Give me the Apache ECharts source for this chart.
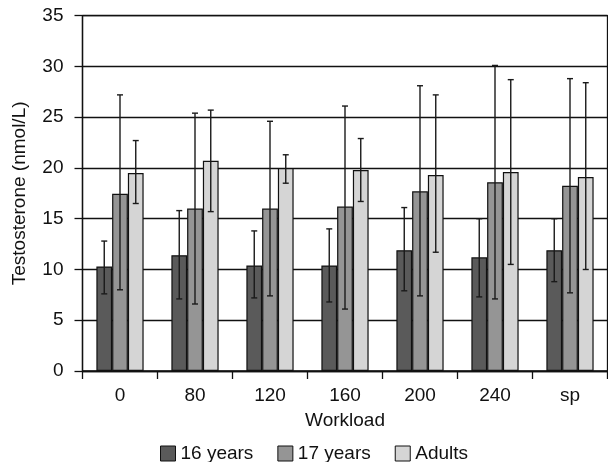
<!DOCTYPE html>
<html>
<head>
<meta charset="utf-8">
<script src="https://cdn.jsdelivr.net/npm/echarts@6/dist/echarts.min.js"></script>
<style>html,body{margin:0;padding:0;background:#fff}#c{width:608px;height:462px}</style>
</head>
<body>
<div id="c"></div>
<script>
var categories = ['0', '80', '120', '160', '200', '240', 'sp'];
var seriesNames = ['16 years', '17 years', 'Adults'];
var mean16 = [10.3, 11.4, 10.4, 10.4, 11.9, 11.2, 11.9];
var low16  = [7.6, 7.1, 7.2, 6.8, 7.9, 7.3, 8.8];
var high16 = [12.8, 15.8, 13.8, 14.0, 16.1, 15.0, 15.0];
var mean17 = [17.45, 16.0, 16.0, 16.2, 17.7, 18.6, 18.25];
var low17  = [8.0, 6.6, 7.4, 6.1, 7.4, 7.1, 7.7];
var high17 = [27.2, 25.4, 24.6, 26.1, 28.1, 30.1, 28.8];
var meanAd = [19.5, 20.7, 20.0, 19.8, 19.3, 19.6, 19.1];
var lowAd  = [16.5, 15.7, 18.5, 16.7, 11.7, 10.5, 10.0];
var highAd = [22.7, 25.7, 21.3, 22.9, 27.2, 28.7, 28.4];
var yTicks = [0, 5, 10, 15, 20, 25, 30, 35];

var colors = ['#5a5a5a', '#959595', '#d5d5d5'];
var font = '"Liberation Sans", Arial, sans-serif';
var FS = 19;
var BAR_RATIO = 0.21;

function errSeries(idx, lows, highs) {
  var data = categories.map(function (c, i) { return [i, lows[i], highs[i]]; });
  return {
    type: 'custom',
    name: seriesNames[idx] + ' err',
    z: 10,
    silent: true,
    data: data,
    renderItem: function (params, api) {
      var i = api.value(0);
      var band = api.size([1, 0])[0];
      var off = (idx - 1) * band * BAR_RATIO;
      var lo = api.coord([i, api.value(1)]);
      var hi = api.coord([i, api.value(2)]);
      var x = lo[0] + off;
      var cap = 3;
      var st = { stroke: '#1a1a1a', lineWidth: 1.4 };
      return {
        type: 'group',
        children: [
          { type: 'line', shape: { x1: x, y1: lo[1], x2: x, y2: hi[1] }, style: st },
          { type: 'line', shape: { x1: x - cap, y1: lo[1], x2: x + cap, y2: lo[1] }, style: st },
          { type: 'line', shape: { x1: x - cap, y1: hi[1], x2: x + cap, y2: hi[1] }, style: st }
        ]
      };
    }
  };
}

function barSeries(idx, vals) {
  return {
    type: 'bar',
    name: seriesNames[idx],
    data: vals,
    barWidth: (BAR_RATIO * 100) + '%',
    barGap: '0%',
    itemStyle: { color: colors[idx], borderColor: '#111', borderWidth: 1.2 }
  };
}

var chart = echarts.init(document.getElementById('c'), null, { renderer: 'canvas' });
chart.setOption({
  animation: false,
  backgroundColor: '#fff',
  textStyle: { fontFamily: font },
  grid: { left: 82.5, right: 0.5, top: 15.7, bottom: 91, show: true, borderColor: '#111', borderWidth: 1.3, containLabel: false },
  legend: {
    top: 439,
    left: 155,
    icon: 'rect',
    itemWidth: 15,
    itemHeight: 15,
    itemGap: 24,
    data: seriesNames.map(function (n) { return { name: n, itemStyle: { borderColor: '#111', borderWidth: 1 } }; }),
    textStyle: { fontFamily: font, fontSize: FS, color: '#111' }
  },
  xAxis: {
    type: 'category',
    data: categories,
    name: 'Workload',
    nameLocation: 'middle',
    nameGap: 40,
    nameTextStyle: { fontFamily: font, fontSize: FS, color: '#111' },
    axisLine: { lineStyle: { color: '#111', width: 1.3 } },
    axisTick: { show: true, length: 8, lineStyle: { color: '#111', width: 1.3 } },
    axisLabel: { fontFamily: font, fontSize: FS, color: '#111', margin: 15 }
  },
  yAxis: {
    type: 'value',
    min: 0,
    max: 35,
    interval: 5,
    name: 'Testosterone (nmol/L)',
    nameLocation: 'middle',
    nameGap: 53,
    nameTextStyle: { fontFamily: font, fontSize: FS, color: '#111' },
    axisLine: { show: true, lineStyle: { color: '#111', width: 1.3 } },
    axisTick: { show: true, length: 8, lineStyle: { color: '#111', width: 1.3 } },
    axisLabel: { fontFamily: font, fontSize: FS, color: '#111', margin: 19, padding: [4, 0, 0, 0],
      formatter: function (v) { return yTicks.indexOf(v) >= 0 ? String(v) : ''; } },
    splitLine: { show: true, lineStyle: { color: '#111', width: 1.3 } }
  },
  series: [
    barSeries(0, mean16), barSeries(1, mean17), barSeries(2, meanAd),
    errSeries(0, low16, high16), errSeries(1, low17, high17), errSeries(2, lowAd, highAd)
  ]
});
</script>
</body>
</html>
